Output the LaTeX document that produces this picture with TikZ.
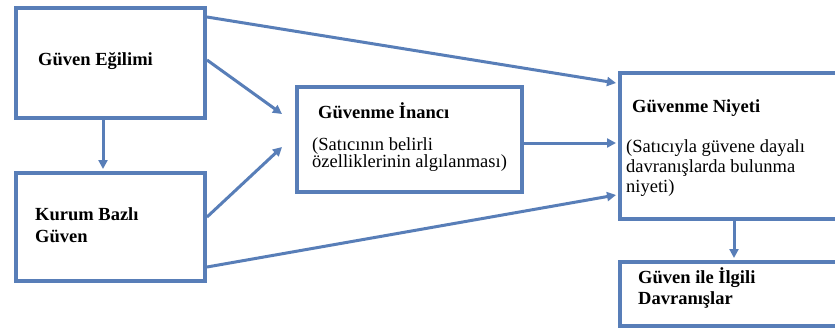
\documentclass[tikz,border=0pt]{standalone}
\usepackage{fontspec}
\setmainfont{Liberation Serif}
\newfontfamily\labelfont{Liberation Serif}
\usetikzlibrary{arrows.meta,calc}
\definecolor{frameblue}{RGB}{88,126,184}
\newcommand\boxlines[1]{\begin{tabular}[t]{@{}l@{}}#1\end{tabular}}
\begin{document}
\begin{tikzpicture}[x=1pt,y=-1pt,
  box/.style={draw=frameblue,line width=4pt,fill=white,inner sep=0pt,anchor=north west},
  title/.style={anchor=base west,inner sep=0pt,font=\labelfont\bfseries\fontsize{18.5}{#1}\selectfont},
  title/.default=22,
  body/.style={anchor=base west,inner sep=0pt,font=\labelfont\fontsize{18.5}{#1}\selectfont},
  arr/.style={draw=frameblue,line width=3pt,-{Triangle[length=9pt,width=9pt]}}]
  \useasboundingbox (0,0) rectangle (835,333);
  \clip (0,0) rectangle (835,333);
  \fill[white] (0,0) rectangle (835,333);

  % boxes
  \node[box,minimum width=189pt,minimum height=110pt] (b1) at (14,6) {};
  \node[box,minimum width=189pt,minimum height=108pt] (b2) at (14,171) {};
  \node[box,minimum width=225pt,minimum height=105pt] (b3) at (295,85) {};
  \node[box,minimum width=240pt,minimum height=146pt] (b4) at (618,71) {};
  \node[box,minimum width=240pt,minimum height=64pt] (b5) at (618,260) {};

  % texts
  \node[title] (t1) at (38,65) {Güven Eğilimi};
  \node[title=22] (t2) at (35,220) {\boxlines{Kurum Bazlı\\Güven}};
  \node[title] (t3) at (318,118) {Güvenme İnancı};
  \node[body=17] (s3) at (312,150) {\boxlines{(Satıcının belirli\\özelliklerinin algılanması)}};
  \node[title] (t4) at (632,112) {Güvenme Niyeti};
  \node[body=20] (s4) at (626,152) {\boxlines{(Satıcıyla güvene dayalı\\davranışlarda bulunma\\niyeti)}};
  \node[title=21] (t5) at (638,283) {\boxlines{Güven ile İlgili\\Davranışlar}};

  % end points of connectors
  \coordinate (p13) at (282,114);
  \coordinate (p23) at (282,147);

  % connectors
  \draw[arr] (b1.south -| 103,0) -- ($(b2.north -| 103,0)+(0,-2)$);
  \draw[arr] (b1.east |- 0,17) -- ($(b4.west |- 0,83)+(-2,0)$);
  \draw[arr] (b1.east |- 0,60) -- (p13);
  \draw[arr] (b2.east |- 0,217) -- (p23);
  \draw[arr] (b2.east |- 0,267) -- ($(b4.west |- 0,195)+(-2,0)$);
  \draw[arr] (b3.east |- 0,143) -- ($(b4.west |- 0,143)+(-2,0)$);
  \draw[arr] (b4.south -| 734,0) -- ($(b5.north -| 734,0)+(0,-2)$);
\end{tikzpicture}
\end{document}
